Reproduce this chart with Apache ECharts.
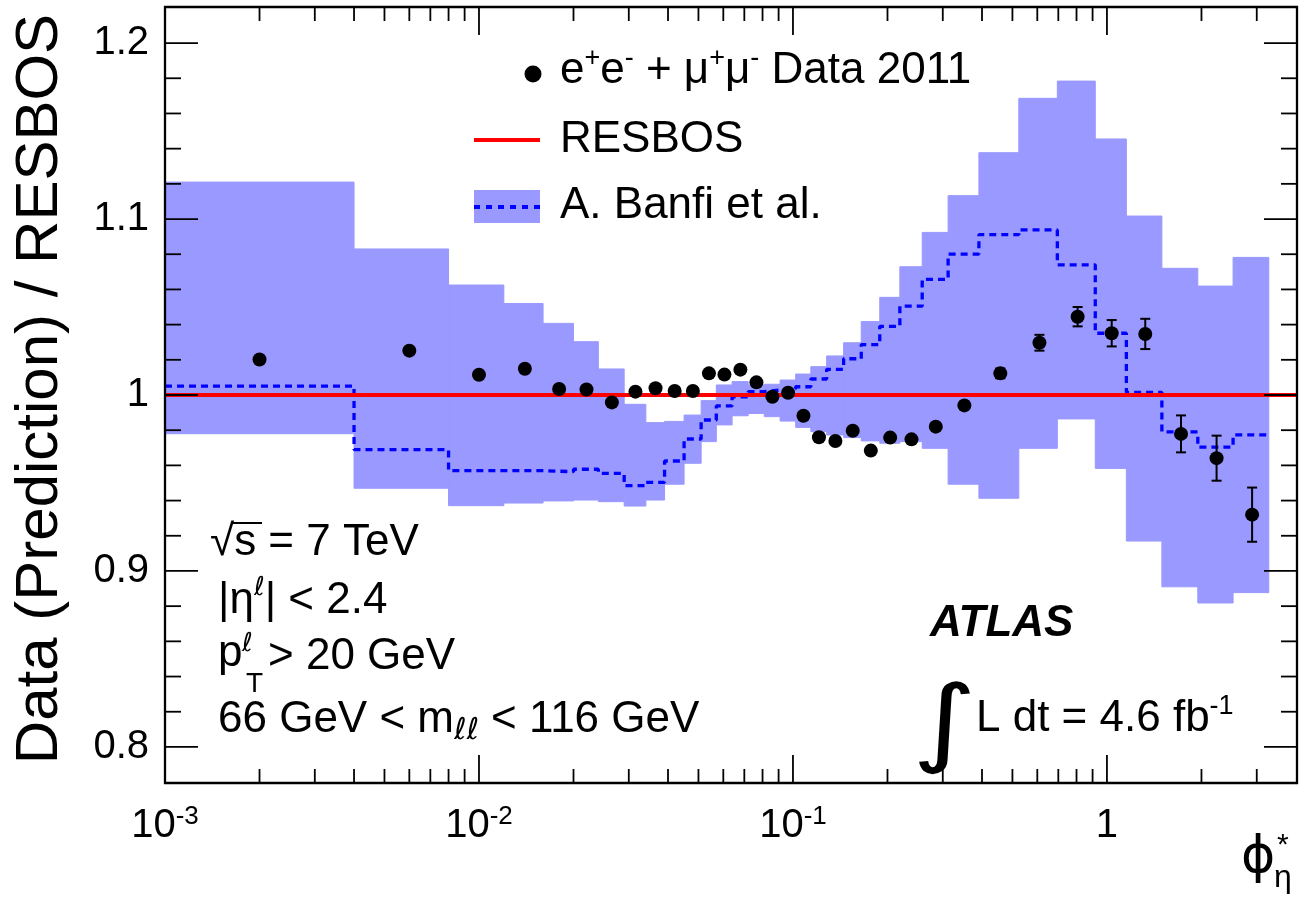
<!DOCTYPE html>
<html>
<head>
<meta charset="utf-8">
<title>Data / RESBOS vs phi*</title>
<script src="https://cdn.jsdelivr.net/npm/echarts@6/dist/echarts.min.js"></script>
<style>
  html, body { margin: 0; padding: 0; background: #fff; }
  #chart { width: 1301px; height: 897px; }
</style>
</head>
<body>
<div id="chart"></div>
<script>
// phi*_eta bin edges (first bin starts at 0, drawn from the axis start)
const binEdges = [0.001, 0.004, 0.008, 0.012, 0.016, 0.020, 0.024, 0.029, 0.034, 0.039,
  0.045, 0.051, 0.057, 0.064, 0.072, 0.081, 0.091, 0.102, 0.114, 0.128, 0.145, 0.165,
  0.189, 0.219, 0.258, 0.312, 0.391, 0.524, 0.695, 0.918, 1.153, 1.496, 1.947, 2.522, 3.277];

// A. Banfi et al. prediction / RESBOS: band edges and central value per bin
const banfiHigh = [1.121, 1.083, 1.0625, 1.052, 1.0407, 1.0303, 1.0148, 0.9947, 0.9843, 0.985,
  0.9886, 0.9968, 1.0057, 1.0076, 1.0057, 1.0061, 1.0085, 1.0119, 1.0161, 1.0222, 1.0297,
  1.0417, 1.0555, 1.0729, 1.0924, 1.1133, 1.1377, 1.1686, 1.1784, 1.1455, 1.1017, 1.072,
  1.0619, 1.0782];
const banfiLow = [0.978, 0.947, 0.9371, 0.9386, 0.9398, 0.9403, 0.9394, 0.9369, 0.9403, 0.9493,
  0.9612, 0.9735, 0.983, 0.9882, 0.9895, 0.9877, 0.9852, 0.9816, 0.9792, 0.9773, 0.9758,
  0.9739, 0.9726, 0.9735, 0.9697, 0.9493, 0.9413, 0.9697, 0.9864, 0.9583, 0.917, 0.891,
  0.8818, 0.8877];
const banfiCentral = [1.0051, 0.969, 0.957, 0.957, 0.9564, 0.9578, 0.9555, 0.9485, 0.9504, 0.9625,
  0.975, 0.9858, 0.9938, 0.999, 1.0019, 1.0028, 1.0035, 1.0047, 1.0091, 1.0146, 1.0206,
  1.0286, 1.039, 1.0505, 1.0657, 1.0801, 1.0911, 1.0938, 1.074, 1.0351, 1.0015, 0.979,
  0.9704, 0.9773];

// e+e- + mu+mu- data 2011 / RESBOS
const dataX = [0.002, 0.006, 0.010, 0.014, 0.018, 0.022, 0.0265, 0.0315, 0.0365, 0.042,
  0.048, 0.054, 0.0605, 0.068, 0.0765, 0.086, 0.0965, 0.108, 0.121, 0.1365, 0.155, 0.177,
  0.204, 0.2385, 0.285, 0.3515, 0.4575, 0.6095, 0.8065, 1.0355, 1.3245, 1.7215, 2.2345, 2.8995];
const dataY = [1.0202, 1.0252, 1.0115, 1.0149, 1.0034, 1.0031, 0.9958, 1.0019, 1.0038, 1.0023,
  1.0023, 1.0123, 1.0116, 1.0144, 1.0072, 0.999, 1.0013, 0.9882, 0.976, 0.9739, 0.9797,
  0.9684, 0.9758, 0.9748, 0.982, 0.9941, 1.0123, 1.0297, 1.0445, 1.0351, 1.0347, 0.9779,
  0.9641, 0.932];
const dataErr = [0.0015, 0.0015, 0.0015, 0.0015, 0.0015, 0.0015, 0.0015, 0.0015, 0.0015, 0.0015,
  0.0015, 0.0015, 0.0015, 0.0015, 0.0015, 0.0015, 0.0015, 0.0015, 0.0015, 0.0015, 0.0015,
  0.0015, 0.0015, 0.0015, 0.002, 0.002, 0.0028, 0.0045, 0.0055, 0.0075, 0.0086, 0.0105,
  0.0128, 0.0154];

// RESBOS reference line
const resbosX = [0.001, 4.03];
const resbosY = [1, 1];

// axes
const X_MIN = 0.001, X_MAX = 4.03;
const Y_MIN = 0.7795, Y_MAX = 1.2205;
const xMajorTicks = [0.001, 0.01, 0.1, 1];
const xMinorTicks = [0.002, 0.003, 0.004, 0.005, 0.006, 0.007, 0.008, 0.009,
  0.02, 0.03, 0.04, 0.05, 0.06, 0.07, 0.08, 0.09,
  0.2, 0.3, 0.4, 0.5, 0.6, 0.7, 0.8, 0.9, 2, 3];
const xLabelBase = ['10', '10', '10', '1'];
const xLabelExp = ['-3', '-2', '-1', ''];
const yMajorTicks = [0.8, 0.9, 1.0, 1.1, 1.2];
const yTickLabels = ['0.8', '0.9', '1', '1.1', '1.2'];
const yMinorTicks = [0.82, 0.84, 0.86, 0.88, 0.92, 0.94, 0.96, 0.98,
  1.02, 1.04, 1.06, 1.08, 1.12, 1.14, 1.16, 1.18];

const FONT = '"Liberation Sans", Arial, Helvetica, sans-serif';
const SCRIPT = '"DejaVu Sans", sans-serif';
const BAND = '#9999ff';

const chart = echarts.init(document.getElementById('chart'), null, { renderer: 'canvas' });

function tickLine(x1, y1, x2, y2) {
  return { type: 'line', shape: { x1, y1, x2, y2 }, style: { stroke: '#000', lineWidth: 1.8 } };
}

function renderXTick(params, api) {
  const v = api.value(0);
  const len = api.value(1) === 1 ? 28 : 14;
  const b = api.coord([v, Y_MIN]);
  const t = api.coord([v, Y_MAX]);
  return { type: 'group', children: [tickLine(b[0], b[1], b[0], b[1] - len), tickLine(t[0], t[1], t[0], t[1] + len)] };
}

function renderYTick(params, api) {
  const v = api.value(0);
  const len = api.value(1) === 1 ? 33 : 16;
  const l = api.coord([X_MIN, v]);
  const r = api.coord([X_MAX, v]);
  return { type: 'group', children: [tickLine(l[0], l[1], l[0] + len, l[1]), tickLine(r[0], r[1], r[0] - len, r[1])] };
}

function renderXLabel(params, api) {
  const i = params.dataIndex;
  const p = api.coord([api.value(0), Y_MIN]);
  const exp = xLabelExp[i];
  return {
    type: 'text', x: p[0], y: p[1] + 21,
    style: {
      text: exp ? `{b|${xLabelBase[i]}}{s|${exp}}` : `{b|${xLabelBase[i]}}`,
      align: 'center', verticalAlign: 'top', textAlign: 'center', textVerticalAlign: 'top',
      rich: {
        b: { fontSize: 40, fontFamily: FONT, lineHeight: 44, fill: '#000', color: '#000' },
        s: { fontSize: 26, fontFamily: FONT, lineHeight: 14, verticalAlign: 'top', fill: '#000', color: '#000' }
      }
    }
  };
}

function renderYLabel(params, api) {
  const p = api.coord([X_MIN, api.value(0)]);
  return {
    type: 'text', x: p[0] - 16, y: p[1],
    style: {
      text: yTickLabels[params.dataIndex], font: `40px ${FONT}`, fill: '#000',
      align: 'right', verticalAlign: 'middle', textAlign: 'right', textVerticalAlign: 'middle'
    }
  };
}

function renderBand(params, api) {
  const p1 = api.coord([api.value(0), api.value(3)]);
  const p2 = api.coord([api.value(1), api.value(2)]);
  return {
    type: 'rect',
    shape: { x: p1[0], y: p1[1], width: p2[0] - p1[0], height: p2[1] - p1[1] },
    style: { fill: BAND, stroke: BAND, lineWidth: 1 }
  };
}

function renderErr(params, api) {
  const x = api.value(0), y = api.value(1), e = api.value(2);
  const lo = api.coord([x, y - e]);
  const hi = api.coord([x, y + e]);
  const s = { stroke: '#000', lineWidth: 2 };
  return { type: 'group', children: [
    { type: 'line', shape: { x1: lo[0], y1: lo[1], x2: hi[0], y2: hi[1] }, style: s },
    { type: 'line', shape: { x1: lo[0] - 5, y1: lo[1], x2: lo[0] + 5, y2: lo[1] }, style: s },
    { type: 'line', shape: { x1: hi[0] - 5, y1: hi[1], x2: hi[0] + 5, y2: hi[1] }, style: s }
  ] };
}

function renderFrame(params, api) {
  const a = api.coord([api.value(0), api.value(3)]);
  const b = api.coord([api.value(2), api.value(1)]);
  return { type: 'rect', shape: { x: a[0], y: a[1], width: b[0] - a[0], height: b[1] - a[1] },
    style: { fill: 'none', stroke: '#000', lineWidth: 2.3 } };
}

function rich(extra) {
  return Object.assign({
    b: { fontSize: 44, fontFamily: FONT, lineHeight: 52, fill: '#000', color: '#000' },
    s: { fontSize: 27, fontFamily: FONT, lineHeight: 34, verticalAlign: 'top', fill: '#000', color: '#000' }
  }, extra || {});
}

function label(x, y, text, r, extra) {
  return Object.assign({
    type: 'text', x, y, z: 100,
    style: { text, rich: r, align: 'left', verticalAlign: 'middle', textAlign: 'left', textVerticalAlign: 'middle' }
  }, extra || {});
}

function plain(x, y, text, font, extra) {
  return Object.assign({
    type: 'text', x, y, z: 100,
    style: { text, font, fill: '#000', align: 'left', verticalAlign: 'middle', textAlign: 'left', textVerticalAlign: 'middle' }
  }, extra || {});
}

const option = {
  animation: false,
  backgroundColor: '#fff',
  grid: { left: 165, top: 7, right: 4, bottom: 114, containLabel: false, outerBoundsMode: 'none', show: false },
  xAxis: {
    type: 'log', logBase: 10, min: X_MIN, max: X_MAX,
    axisLine: { show: false }, axisTick: { show: false }, axisLabel: { show: false }, splitLine: { show: false }
  },
  yAxis: {
    type: 'value', min: Y_MIN, max: Y_MAX,
    axisLine: { show: false }, axisTick: { show: false }, axisLabel: { show: false }, splitLine: { show: false }
  },
  series: [
    {
      name: 'A. Banfi et al. band', type: 'custom', renderItem: renderBand, z: 1,
      encode: { x: [0, 1], y: [2, 3] },
      data: banfiLow.map((v, i) => [binEdges[i], binEdges[i + 1], v, banfiHigh[i]])
    },
    {
      name: 'A. Banfi et al.', type: 'line', step: 'end', showSymbol: false, z: 2,
      lineStyle: { color: '#0000ff', width: 3.3, type: [7, 5] },
      data: binEdges.map((e, i) => [e, banfiCentral[Math.min(i, banfiCentral.length - 1)]])
    },
    {
      name: 'RESBOS', type: 'line', showSymbol: false, z: 3,
      lineStyle: { color: '#ff0000', width: 4 },
      data: resbosX.map((x, i) => [x, resbosY[i]])
    },
    {
      name: 'errors', type: 'custom', renderItem: renderErr, z: 4,
      data: dataX.map((x, i) => [x, dataY[i], dataErr[i]])
    },
    {
      name: 'Data 2011', type: 'scatter', symbol: 'circle', symbolSize: 14, z: 5,
      itemStyle: { color: '#000', opacity: 1 },
      data: dataX.map((x, i) => [x, dataY[i]])
    },
    { type: 'custom', renderItem: renderFrame, z: 10, data: [[X_MIN, Y_MIN, X_MAX, Y_MAX]] },
    { type: 'custom', renderItem: renderXTick, z: 10,
      data: xMajorTicks.map(v => [v, 1]).concat(xMinorTicks.map(v => [v, 0])) },
    { type: 'custom', renderItem: renderYTick, z: 10,
      data: yMajorTicks.map(v => [v, 1]).concat(yMinorTicks.map(v => [v, 0])) },
    { type: 'custom', renderItem: renderXLabel, z: 10, data: xMajorTicks.map(v => [v, Y_MIN]) },
    { type: 'custom', renderItem: renderYLabel, z: 10, data: yMajorTicks.map(v => [v]) }
  ],
  graphic: { elements: [
    // y axis title
    {
      type: 'text', x: 40, y: 389, z: 100, rotation: Math.PI / 2,
      style: { text: 'Data (Prediction) / RESBOS', font: `60px ${FONT}`, fill: '#000',
        align: 'center', verticalAlign: 'middle', textAlign: 'center', textVerticalAlign: 'middle' }
    },
    // x axis title
    plain(1241, 858, 'ϕ', `52px ${SCRIPT}`),
    plain(1277, 846, '*', `30px ${FONT}`),
    plain(1274, 878, 'η', `32px ${FONT}`),

    // legend
    { type: 'circle', z: 100, shape: { cx: 533, cy: 74, r: 8.5 }, style: { fill: '#000' } },
    label(560, 71, '{b|e}{s|+}{b|e}{s|-}{b| + μ}{s|+}{b|μ}{s|-}{b| Data 2011}', rich()),
    { type: 'line', z: 100, shape: { x1: 474, y1: 140, x2: 540, y2: 140 }, style: { stroke: '#ff0000', lineWidth: 4 } },
    plain(560, 140, 'RESBOS', `44px ${FONT}`),
    { type: 'rect', z: 100, shape: { x: 474, y: 190, width: 66, height: 33 }, style: { fill: BAND } },
    { type: 'line', z: 101, shape: { x1: 474, y1: 207, x2: 540, y2: 207 },
      style: { stroke: '#0000ff', lineWidth: 4, lineDash: [6, 6] } },
    plain(560, 206, 'A. Banfi et al.', `44px ${FONT}`),

    // selection labels
    plain(210, 543, '√s = 7 TeV', `44px ${FONT}`),
    { type: 'line', z: 100, shape: { x1: 232, y1: 523, x2: 262, y2: 523 }, style: { stroke: '#000', lineWidth: 2 } },
    label(218, 601, '{b||η}{s|ℓ}{b|| < 2.4}',
      rich({ s: { fontSize: 26, fontFamily: SCRIPT, lineHeight: 26, verticalAlign: 'top', fill: '#000', color: '#000' } })),
    plain(218, 654, 'p', `44px ${FONT}`),
    plain(242, 644, 'ℓ', `26px ${SCRIPT}`),
    plain(246, 684, 'T', `28px ${FONT}`),
    plain(268, 657, '> 20 GeV', `44px ${FONT}`),
    label(218, 720, '{b|66 GeV < m}{u|ℓℓ}{b| < 116 GeV}',
      rich({ u: { fontSize: 30, fontFamily: SCRIPT, fontStyle: 'italic', lineHeight: 16, verticalAlign: 'bottom', fill: '#000', color: '#000' } })),

    // ATLAS
    plain(930, 624, 'ATLAS', `italic bold 44px ${FONT}`),
    plain(912, 729, '∫', `96px ${SCRIPT}`, { scaleX: 1.3 }),
    label(976, 719, '{b|L dt = 4.6 fb}{s|-1}',
      rich({ s: { fontSize: 27, fontFamily: FONT, lineHeight: 17, verticalAlign: 'top', fill: '#000', color: '#000' } }))
  ] }
};

chart.setOption(option);
window.addEventListener('resize', () => chart.resize());
</script>
</body>
</html>
